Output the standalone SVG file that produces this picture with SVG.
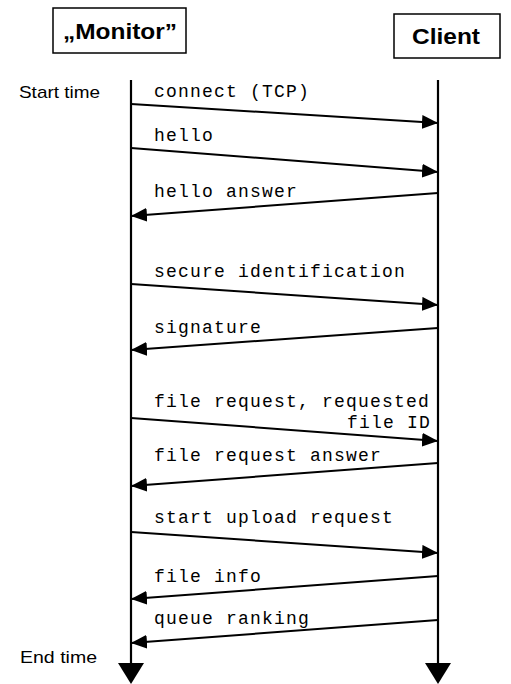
<svg xmlns="http://www.w3.org/2000/svg" width="511" height="684" viewBox="0 0 511 684">
<style>
.box{fill:#fff;stroke:#000;stroke-width:1.5}
.title{font-family:"Liberation Sans",Arial,sans-serif;font-weight:bold;font-size:22px;fill:#000}
.side{font-family:"Liberation Sans",Arial,sans-serif;font-size:17px;fill:#000}
.msg{font-family:"Liberation Mono","Courier New",monospace;font-size:18px;letter-spacing:1.2px;fill:#000}
.life{stroke:#000;stroke-width:2.2;fill:none}
.arr{stroke:#000;stroke-width:2;fill:none;marker-end:url(#ah)}
</style>
<defs>
<marker id="ah" markerUnits="userSpaceOnUse" markerWidth="18" markerHeight="14" refX="16" refY="7" orient="auto">
<path d="M0,0 L16,7 L0,14 Z" fill="#000"/>
</marker>
</defs>
<g id="monitor">
<rect class="box" x="53" y="8" width="133" height="45"/>
<text class="title" x="120" y="39" text-anchor="middle" textLength="114" lengthAdjust="spacingAndGlyphs">„Monitor”</text>
<line class="life" x1="131" y1="80" x2="131" y2="665"/>
<polygon points="118,663 144,663 131,684" fill="#000"/>
</g>
<g id="client">
<rect class="box" x="394" y="14" width="106" height="44"/>
<text class="title" x="446" y="44" text-anchor="middle" textLength="68" lengthAdjust="spacingAndGlyphs">Client</text>
<line class="life" x1="438" y1="80" x2="438" y2="665"/>
<polygon points="425,663 451,663 438,684" fill="#000"/>
</g>
<g id="labels">
<text class="side" x="19" y="98" textLength="81" lengthAdjust="spacingAndGlyphs">Start time</text>
<text class="side" x="20" y="663" textLength="77" lengthAdjust="spacingAndGlyphs">End time</text>
</g>
<g id="connectors">
<line class="arr" x1="131" y1="104" x2="438" y2="123"/>
<line class="arr" x1="131" y1="148" x2="438" y2="172"/>
<line class="arr" x1="438" y1="193" x2="131" y2="216"/>
<line class="arr" x1="131" y1="284" x2="438" y2="305"/>
<line class="arr" x1="438" y1="328" x2="131" y2="350"/>
<line class="arr" x1="131" y1="418" x2="438" y2="441"/>
<line class="arr" x1="438" y1="463" x2="131" y2="486"/>
<line class="arr" x1="131" y1="532" x2="438" y2="553"/>
<line class="arr" x1="438" y1="576" x2="131" y2="599"/>
<line class="arr" x1="438" y1="620" x2="131" y2="643"/>
</g>
<g id="messages">
<text class="msg" x="154" y="97">connect (TCP)</text>
<text class="msg" x="154" y="141">hello</text>
<text class="msg" x="154" y="197">hello answer</text>
<text class="msg" x="154" y="277">secure identification</text>
<text class="msg" x="154" y="333">signature</text>
<text class="msg" x="154" y="407">file request, requested</text>
<text class="msg" x="431" y="428" text-anchor="end">file ID</text>
<text class="msg" x="154" y="461">file request answer</text>
<text class="msg" x="154" y="523">start upload request</text>
<text class="msg" x="154" y="582">file info</text>
<text class="msg" x="154" y="624">queue ranking</text>
</g>
</svg>
